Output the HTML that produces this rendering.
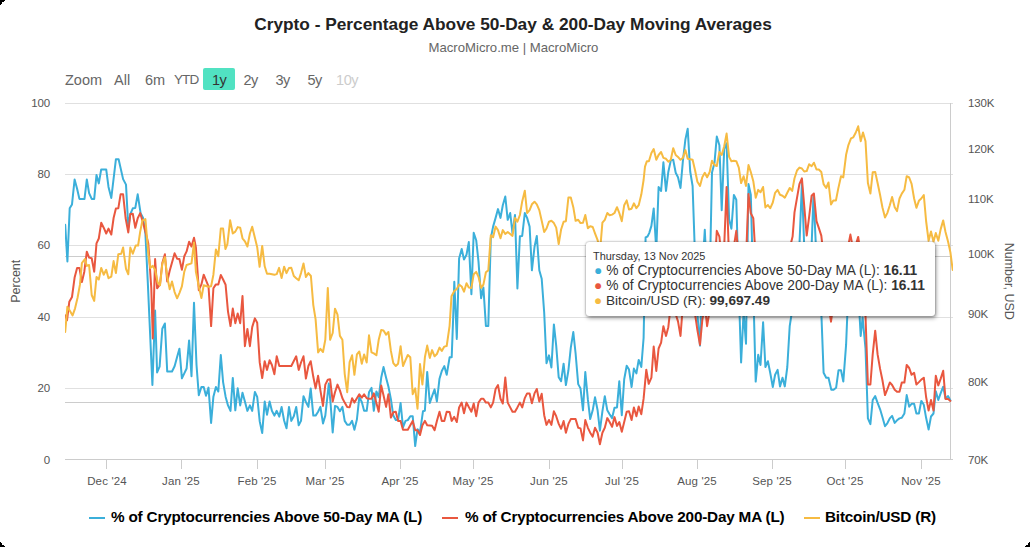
<!DOCTYPE html>
<html><head><meta charset="utf-8">
<style>
html,body{margin:0;padding:0;background:#000;}
body{width:1030px;height:547px;overflow:hidden;font-family:"Liberation Sans",sans-serif;}
#card{position:absolute;left:0;top:0;width:1030px;height:547px;background:#fff;overflow:hidden;}
.t{position:absolute;white-space:nowrap;line-height:1;}
#title{left:0;width:1026px;text-align:center;top:16px;font-size:17.3px;font-weight:bold;color:#222;}
#sub{left:0;width:1027px;text-align:center;top:41px;font-size:13.15px;color:#666;}
.z{font-size:14.5px;color:#666;top:72.5px;}
.yl{font-size:11.5px;letter-spacing:-0.15px;color:#555;text-align:right;width:40px;margin-top:0.5px}
.yr{font-size:11.5px;letter-spacing:-0.15px;color:#555;margin-top:0.5px}
.xl{font-size:11.5px;letter-spacing:0.15px;color:#555;top:475.5px;width:60px;text-align:center;}
.lg{font-size:15.3px;letter-spacing:-0.2px;font-weight:bold;color:#000;top:509px;}
#tip{position:absolute;left:586px;top:242px;width:349px;height:74px;background:#fff;border-radius:3px;box-shadow:0 0 2px rgba(0,0,0,0.4),1px 2px 4px rgba(0,0,0,0.42);}
#tip .t{color:#333;}
</style></head><body>
<div id="card">
<div class="t" id="title">Crypto - Percentage Above 50-Day &amp; 200-Day Moving Averages</div>
<div class="t" id="sub">MacroMicro.me | MacroMicro</div>

<div class="t z" style="left:65px">Zoom</div>
<div class="t z" style="left:114px">All</div>
<div class="t z" style="left:145px">6m</div>
<div class="t z" style="left:174px;letter-spacing:-0.9px;font-size:13.5px;margin-top:0.7px">YTD</div>
<div style="position:absolute;left:203px;top:68px;width:32px;height:22px;background:#51e2c2;border-radius:2px"></div>
<div class="t z" style="left:212px;color:#333;letter-spacing:-0.5px">1y</div>
<div class="t z" style="left:243.5px;letter-spacing:-0.5px">2y</div>
<div class="t z" style="left:275.5px;letter-spacing:-0.5px">3y</div>
<div class="t z" style="left:307.5px;letter-spacing:-0.5px">5y</div>
<div class="t z" style="left:336px;color:#ccc;letter-spacing:-0.4px">10y</div>

<svg id="plot" width="1030" height="547" style="position:absolute;left:0;top:0">
<defs><clipPath id="pc"><rect x="65" y="100" width="888" height="362"/></clipPath></defs>
<g stroke="#e0e0e0" stroke-width="1" fill="none">
<path d="M65 103.5H953M65 174.5H953M65 245.5H953M65 317.5H953M65 388.5H953"/>
</g>
<path d="M65 459.5H953" stroke="#ccc" stroke-width="1"/>
<path d="M950.5 103V459" stroke="#ccc" stroke-width="1"/>
<path d="M65 256.5H951M65 402.5H951" stroke="#ccc" stroke-width="1"/>
<g stroke="#ccc" stroke-width="1">
<path d="M106.5 459V469M181.500 459V469M257.5 459V469M325.5 459V469M400.5 459V469M473.5 459V469M549.5 459V469M622.5 459V469M697.5 459V469M772.5 459V469M845.5 459V469M921.5 459V469"/>
</g>
<path shape-rendering="crispEdges" fill="#000" d="M0 0H5V1H4V2H2V4H1V5H0ZM0 547H5V546H4V545H2V543H1V542H0ZM1030 547H1025V546H1026V545H1028V543H1029V542H1030Z"/>
<g id="series" clip-path="url(#pc)" fill="none" stroke-width="2" stroke-linejoin="round" stroke-linecap="round">
<path stroke="#3bafda" d="M65.2 224.8L67.4 261.5L69.7 208.3L72.0 204.4L74.6 179.5L77.1 188.8L79.4 198.9L84.5 198.9L86.8 179.5L89.1 193.1L91.7 198.9L94.2 198.9L96.5 174.9L98.8 183.4L101.2 169.4L106.2 169.4L108.5 186.9L111.3 198.0L115.9 159.3L118.6 159.3L123.1 179.1L126.0 184.6L128.3 227.7L130.3 214.1L132.8 208.3L135.3 207.9L137.7 194.3L140.6 213.1L143.1 218.0L145.4 233.5L147.8 282.4L152.4 385.0L155.1 310.6L157.1 372.4L159.6 366.6L162.3 328.7L164.9 323.5L167.2 371.5L172.0 371.5L174.6 366.2L177.1 356.9L179.4 348.7L181.9 378.3L184.3 373.4L186.6 368.5L189.1 340.4L191.5 376.3L194.0 302.8L196.5 364.7L198.8 395.3L201.4 387.0L203.7 387.0L206.0 395.7L208.5 387.6L211.1 422.9L213.4 396.7L215.9 387.0L218.3 391.5L220.8 355.0L223.1 382.1L225.6 396.7L228.0 405.4L230.5 410.9L232.8 377.9L235.3 410.3L237.7 388.3L240.2 405.4L242.5 392.8L244.9 401.6L247.4 410.9L249.9 405.4L252.2 410.9L254.9 391.9L257.2 396.9L259.7 421.2L262.2 433.1L264.7 401.5L267.0 414.7L269.6 401.5L271.9 410.8L274.4 415.6L276.7 410.8L279.3 416.6L281.6 406.9L284.1 420.5L286.5 428.3L289.0 406.9L291.3 420.9L293.8 416.2L296.2 406.9L298.7 425.3L301.0 420.9L303.5 396.2L305.9 402.0L308.4 406.9L310.7 388.4L313.3 415.6L315.6 415.6L318.1 411.7L320.4 406.9L323.0 423.4L325.3 415.6L328.8 383.6L330.7 405.0L332.7 432.5L335.0 405.9L337.5 406.9L339.9 411.2L342.4 406.9L344.7 420.9L347.2 424.8L349.6 424.8L352.1 420.9L354.4 429.8L356.9 419.5L359.3 397.2L361.8 402.0L364.1 410.8L366.7 410.8L369.0 392.3L371.5 387.9L373.8 410.8L376.4 391.4L378.7 397.2L381.2 377.8L383.5 367.1L386.1 377.8L388.4 386.5L390.9 399.1L393.3 415.6L395.8 420.1L398.1 420.1L400.6 403.0L403.0 427.3L405.5 420.9L407.8 420.1L410.3 416.2L412.7 416.2L415.2 446.1L417.5 429.2L420.0 432.1L423.0 411.2L424.9 410.8L427.2 371.9L429.8 403.0L432.1 396.2L434.6 389.4L436.9 401.5L439.5 378.7L441.8 371.0L444.3 366.1L446.7 374.8L449.6 357.3L451.7 357.3L453.1 319.4L454.3 281.7L456.8 338.9L459.1 258.6L461.7 248.9L464.0 259.6L466.5 254.8L468.8 242.1L471.4 294.3L473.7 232.8L476.2 240.2L478.5 261.6L481.1 298.2L483.4 287.5L485.9 325.9L488.3 325.9L490.8 238.3L493.1 226.6L495.6 217.9L498.0 209.1L500.5 217.9L502.8 205.2L505.3 196.5L507.7 219.8L510.2 213.0L512.5 233.4L515.0 215.0L517.4 288.4L519.9 236.3L522.2 235.9L524.8 213.0L527.1 217.9L529.6 226.6L531.9 270.3L534.5 247.0L536.8 235.9L539.3 270.3L541.7 278.7L544.2 312.7L546.5 363.2L549.0 355.4L551.4 367.5L553.9 324.4L556.2 345.7L558.7 377.3L561.1 381.2L563.6 363.7L565.9 385.1L568.4 370.5L570.8 347.7L573.3 332.1L575.6 353.5L578.2 384.1L580.5 388.4L583.0 410.3L585.3 372.1L587.9 399.7L590.2 419.1L592.7 410.3L595.0 397.3L597.6 410.3L599.9 430.7L602.4 411.3L604.8 396.2L607.3 410.3L609.6 414.2L612.1 418.1L614.5 407.8L617.0 407.4L619.3 381.2L621.8 415.2L624.2 379.3L626.7 365.7L629.0 369.6L631.6 387.0L633.9 368.6L636.4 373.4L638.7 359.9L641.3 367.0L643.6 338.0L645.6 237.4L647.5 236.5L649.2 233.1L651.4 225.9L653.7 208.4L656.3 250.2L658.6 187.0L661.1 190.9L663.4 162.3L666.0 190.9L668.3 172.0L670.8 160.4L673.2 159.8L675.7 172.8L678.0 177.3L680.5 188.0L682.9 160.8L685.4 139.4L687.7 128.7L690.2 171.5L692.6 186.0L695.1 258.9L697.4 314.3L700.0 345.6L702.3 270.0L704.8 229.8L707.1 279.9L709.7 279.9L712.0 172.4L714.5 162.7L716.8 136.5L719.4 145.2L721.7 210.3L724.2 149.1L726.6 143.3L729.1 219.0L731.4 228.8L733.9 194.9L736.3 199.7L738.8 290.0L741.1 362.5L743.6 311.9L746.0 343.7L748.5 184.1L750.8 194.8L753.3 290.0L755.7 381.6L758.2 354.8L760.5 365.0L763.1 322.3L765.4 367.0L767.9 361.2L770.2 372.8L772.8 387.0L775.1 374.8L777.6 369.9L780.0 386.4L782.5 377.7L784.8 386.4L787.3 367.0L789.7 326.2L792.2 310.0L794.5 299.9L797.0 290.0L799.4 246.3L801.9 183.2L804.2 246.3L806.7 279.9L809.1 279.9L811.6 246.3L813.5 194.9L815.9 246.3L818.8 279.9L821.3 311.9L823.6 372.8L826.2 377.7L828.5 377.7L831.3 389.7L833.6 389.7L836.1 387.8L838.5 370.3L841.0 370.3L843.3 381.6L846.1 344.7L848.0 298.0L853.3 280.0L858.6 298.0L860.7 335.9L862.6 317.5L865.5 348.5L867.9 418.4L870.4 424.2L872.7 400.0L875.2 396.1L877.6 402.9L880.1 409.3L882.4 417.0L885.0 426.2L887.3 423.3L889.8 418.4L892.1 415.9L894.7 422.9L897.0 420.3L899.5 418.4L901.8 417.8L904.4 413.5L906.7 395.1L909.2 406.7L911.6 403.8L914.1 403.8L916.4 413.5L918.9 413.5L921.3 400.9L923.8 404.8L926.1 417.8L928.6 429.5L931.0 416.5L933.5 413.5L935.8 391.2L938.3 400.0L940.7 393.2L943.2 386.7L945.5 398.4L948.1 396.1L950.4 400.5"/>
<path stroke="#e9573f" d="M65.2 315.4L67.0 320.3L69.3 301.8L72.0 297.0L74.6 277.6L77.1 267.9L79.4 267.9L81.9 282.0L84.3 271.7L86.8 251.7L89.1 257.6L91.7 258.2L94.2 271.7L96.5 243.4L98.8 238.5L101.2 222.8L103.7 227.7L106.2 233.5L108.5 228.6L111.3 234.5L113.6 218.0L115.9 208.6L118.3 208.3L120.6 194.3L123.1 194.3L125.6 218.0L128.3 232.5L130.3 214.1L132.8 213.7L135.3 227.7L137.7 218.3L140.2 213.1L143.1 222.8L145.4 231.6L148.3 243.6L151.3 288.3L152.8 338.4L155.1 259.1L157.1 288.3L160.0 284.4L162.3 263.0L164.9 254.3L167.2 281.5L169.7 270.8L174.6 253.3L177.1 258.7L179.4 259.1L181.9 269.8L184.3 256.2L186.6 251.4L189.1 241.7L191.5 246.5L194.0 237.8L195.9 247.5L198.8 290.2L201.4 284.4L203.7 274.7L208.5 286.3L211.1 326.1L213.4 288.3L215.9 284.4L218.3 284.4L220.8 275.0L223.1 279.5L225.6 284.8L228.0 311.6L230.5 326.1L232.8 308.6L235.3 323.2L237.7 313.5L240.2 323.2L242.5 296.0L244.9 346.2L247.4 329.0L249.9 346.2L252.2 327.1L254.9 318.4L257.2 322.8L259.7 362.4L262.2 378.1L264.7 361.2L267.0 369.9L269.6 360.2L271.9 365.0L274.4 374.2L276.7 356.3L279.3 366.0L291.3 366.0L296.2 356.3L298.7 369.9L301.0 362.5L303.5 356.3L305.9 378.6L308.4 366.0L310.7 361.2L313.3 376.8L315.6 388.4L318.1 375.8L320.4 390.4L323.0 405.9L325.3 384.6L327.8 379.7L330.1 379.3L332.7 401.5L335.0 392.3L337.5 384.6L339.9 390.4L342.4 398.2L344.7 402.6L347.2 406.9L349.6 407.3L352.1 398.2L354.4 402.6L356.9 398.2L359.3 394.3L361.8 397.6L364.1 394.3L366.7 398.2L369.0 398.7L371.5 398.7L373.8 393.3L376.4 403.0L378.7 411.7L381.2 385.5L383.5 395.2L386.1 406.9L388.4 394.3L390.9 417.6L393.3 412.3L395.8 411.7L398.1 420.9L400.6 420.9L403.0 429.8L407.8 429.8L410.3 425.3L412.7 420.9L415.2 430.2L417.5 430.2L420.0 435.0L422.4 425.3L424.9 420.9L427.2 425.3L432.1 425.7L434.6 430.2L436.9 420.9L439.5 411.7L441.8 420.9L444.3 420.9L446.7 411.7L449.6 412.0L451.7 420.9L454.2 416.9L456.8 422.0L459.1 407.4L461.7 402.6L464.0 413.3L466.5 402.6L468.8 407.0L471.4 411.7L473.7 403.5L476.2 416.2L478.5 402.6L481.1 398.7L483.4 398.7L485.9 402.6L488.3 402.6L490.8 407.4L493.1 402.6L495.6 389.0L498.0 385.1L500.5 398.7L502.8 403.5L505.3 377.5L507.7 402.6L510.2 407.4L512.5 411.7L515.0 411.7L517.4 407.4L519.9 402.6L522.2 407.4L524.8 398.1L527.1 393.4L529.6 393.4L531.9 403.2L534.5 393.4L536.8 389.0L539.3 401.6L541.7 393.8L544.2 415.2L546.5 424.9L549.0 420.0L551.4 424.9L553.9 411.3L556.2 416.2L558.7 423.9L561.1 428.8L563.6 421.0L565.9 432.7L568.4 423.9L570.8 419.1L573.3 419.1L575.6 419.1L578.2 427.8L580.5 428.4L583.0 440.4L585.3 420.0L587.9 427.8L590.2 432.7L592.7 436.6L595.0 427.8L597.6 432.7L599.9 444.3L602.4 432.7L604.8 427.8L607.3 418.1L609.6 422.0L612.1 426.8L614.5 417.1L617.0 425.9L619.3 422.0L621.8 431.7L624.2 422.0L626.7 411.7L629.0 411.3L631.6 420.0L633.9 407.4L636.4 416.2L638.7 406.5L641.3 414.2L643.6 398.7L646.3 369.7L648.7 383.8L651.4 377.7L653.7 346.6L656.3 370.9L658.6 348.5L661.1 342.7L663.4 326.2L666.0 335.9L668.3 327.2L670.8 305.0L673.2 299.9L675.7 314.3L678.0 321.4L680.5 335.9L682.9 305.0L685.4 299.9L687.7 296.8L690.2 296.8L692.6 299.9L695.1 314.3L697.4 330.1L700.0 344.7L702.3 320.1L704.8 305.0L707.1 326.2L709.7 310.0L712.0 290.0L714.5 270.0L716.8 230.8L719.4 236.6L721.7 259.9L724.2 246.3L726.6 187.1L729.1 259.9L731.4 270.0L733.9 246.3L736.3 230.8L738.8 259.9L741.1 279.9L743.6 279.9L746.0 259.9L748.5 193.9L750.8 213.3L753.3 218.2L755.7 259.9L758.2 279.9L787.3 279.9L790.2 246.3L792.6 236.6L794.5 212.3L799.4 184.2L801.9 178.3L804.2 205.5L806.7 235.6L809.1 217.2L811.6 195.8L813.9 193.5L816.5 221.1L818.8 227.9L821.3 235.6L823.6 256.0L826.2 290.0L828.5 305.0L831.0 321.7L833.3 305.0L836.1 295.0L841.3 280.0L846.1 255.0L848.4 245.0L850.4 234.6L853.3 250.1L855.8 245.0L858.2 236.9L860.7 255.0L863.0 289.9L865.5 315.9L867.9 384.5L870.4 384.5L872.7 354.4L875.2 330.7L877.6 354.4L880.1 368.9L882.4 380.0L885.0 395.1L887.3 389.3L889.8 382.5L892.1 385.0L894.7 389.7L897.0 391.7L899.5 391.7L901.8 382.5L904.4 382.5L906.7 365.0L909.2 368.0L911.6 374.8L914.1 372.8L916.4 384.5L918.9 382.1L921.3 379.6L923.8 377.7L926.1 397.0L928.6 410.6L931.0 400.0L933.5 410.6L935.8 375.7L938.3 385.4L940.7 378.6L943.2 370.8L945.5 399.0L948.1 399.0L950.4 400.9"/>
<path stroke="#f6bb42" d="M65.2 331.9L67.4 306.7L69.7 310.6L72.6 315.4L75.0 308.6L77.5 298.0L80.0 284.4L81.9 263.0L84.9 259.1L86.8 265.9L89.1 265.0L91.7 295.0L94.2 300.9L96.5 277.0L98.8 279.5L101.2 267.9L103.7 274.7L106.2 269.8L108.5 278.2L111.3 276.6L113.6 261.1L115.9 273.1L118.3 254.3L121.2 253.7L123.1 247.5L126.0 268.8L128.3 274.3L130.3 247.5L132.8 253.7L135.7 245.5L138.1 245.5L140.2 231.6L142.5 220.3L145.4 219.1L148.3 253.3L150.3 267.9L152.8 265.9L155.1 269.8L157.7 282.4L160.0 285.3L162.3 264.0L164.9 257.2L167.2 276.6L169.7 289.2L172.0 281.5L174.6 292.1L177.1 298.3L179.4 293.1L181.9 286.3L184.3 271.7L186.6 265.0L191.5 263.4L194.0 242.6L195.9 271.7L198.8 286.3L201.4 298.0L203.7 285.3L208.5 286.7L211.1 286.3L213.4 274.7L215.9 249.4L218.3 256.2L220.8 228.6L223.1 228.6L225.4 249.0L227.4 244.2L230.1 220.3L232.8 233.5L235.3 231.6L237.7 227.1L240.2 227.7L242.5 238.3L244.9 241.3L247.4 246.5L249.9 233.5L252.2 226.7L254.9 237.8L257.2 247.2L259.6 266.8L262.2 245.9L264.7 266.3L267.0 273.7L269.6 273.7L274.4 274.7L276.7 274.1L279.1 267.9L281.6 278.0L284.1 266.7L286.5 273.1L289.0 267.9L291.3 267.7L293.8 276.0L296.2 278.3L298.7 280.3L301.0 273.1L303.5 263.4L305.9 277.0L308.4 273.1L310.9 276.0L313.3 305.1L315.6 319.4L318.1 352.4L320.4 348.9L323.0 352.0L325.3 339.8L327.8 288.0L330.1 339.8L332.7 333.0L335.0 308.7L337.5 314.6L339.9 335.9L342.4 339.8L344.7 373.8L347.2 392.2L349.6 362.1L352.1 355.3L354.4 374.8L356.9 354.4L359.3 351.5L361.8 363.7L364.1 354.4L366.7 362.5L369.0 335.3L371.5 352.4L373.8 353.4L376.4 355.3L378.7 339.8L381.2 330.1L383.5 330.5L386.1 334.6L388.4 332.0L390.9 350.9L393.3 363.1L395.8 366.0L398.1 363.7L400.6 346.2L403.0 366.0L405.5 360.2L407.8 355.0L410.3 357.3L412.7 394.2L415.2 388.3L417.5 408.7L420.0 364.1L422.4 384.5L424.9 357.3L427.2 345.6L429.8 357.9L432.1 350.1L434.6 356.3L436.9 354.0L439.5 347.6L441.8 350.9L444.3 346.6L446.7 346.0L449.6 325.8L451.5 296.2L454.3 291.0L456.8 289.0L459.1 284.6L461.7 286.5L464.0 291.7L466.5 283.2L468.8 287.5L471.4 287.9L473.7 274.3L476.2 271.9L478.5 276.8L481.1 287.9L483.4 284.6L485.9 272.3L488.3 270.4L490.8 235.3L493.1 237.3L495.6 226.6L498.0 230.1L500.5 238.3L502.8 230.1L505.3 234.0L507.7 232.0L510.2 234.0L512.5 235.9L515.0 217.9L517.4 221.7L519.9 215.0L522.2 201.4L524.8 190.7L527.1 213.0L529.6 210.1L531.9 204.3L534.5 201.7L536.8 204.3L539.3 210.1L541.7 220.8L544.2 232.0L546.5 228.5L549.0 221.7L551.4 220.8L553.9 223.1L556.2 227.6L558.7 244.1L561.1 229.5L563.6 221.7L565.9 221.2L568.4 197.5L570.8 197.5L573.3 207.2L575.6 220.8L578.2 219.8L580.5 223.1L583.0 222.7L585.3 215.0L587.9 228.2L590.2 226.2L592.7 227.0L595.0 233.4L597.6 240.2L600.1 250.3L602.4 222.7L604.8 219.8L607.3 213.0L609.6 215.3L612.1 214.6L614.5 213.0L617.0 207.2L619.3 213.0L621.8 221.2L624.2 205.2L626.7 200.4L629.0 209.5L631.6 208.7L633.9 203.3L636.4 208.2L638.7 205.2L641.3 194.6L643.6 180.0L645.0 166.6L646.9 161.2L648.9 161.2L651.4 153.0L653.7 149.1L656.3 159.8L658.6 155.0L661.1 152.0L663.4 157.9L666.0 158.8L668.3 161.7L670.8 159.8L673.2 148.2L675.7 155.0L678.0 156.9L680.5 159.8L682.9 157.9L685.4 150.1L687.7 158.8L690.2 159.2L692.6 159.8L695.1 170.5L697.4 181.7L700.0 186.0L702.3 177.3L704.8 172.8L707.1 177.3L709.7 172.0L712.0 160.8L714.5 165.0L716.8 166.0L719.4 152.0L721.7 155.0L724.2 146.2L726.6 133.6L729.1 156.9L731.4 161.2L733.9 160.8L736.3 161.2L738.8 167.6L741.1 183.1L743.6 176.3L746.0 186.0L748.5 165.0L750.8 172.0L753.3 181.2L755.7 197.7L758.2 189.9L760.5 192.2L763.1 187.0L765.4 207.4L767.9 205.0L770.2 208.3L772.8 202.5L775.1 192.8L777.6 189.9L780.0 194.8L782.5 195.7L784.8 197.7L787.3 192.8L789.7 188.0L792.2 190.9L794.5 178.3L797.0 170.5L799.4 167.6L801.9 168.5L804.2 171.5L806.7 171.1L809.1 164.3L811.6 166.2L813.9 162.7L816.5 169.5L818.8 169.5L821.3 172.0L823.6 184.1L826.2 188.0L828.5 182.5L831.0 204.5L833.3 200.6L835.9 200.6L838.2 188.9L841.0 176.2L843.3 177.4L846.1 154.8L848.4 145.1L851.0 138.3L853.3 137.3L855.8 132.5L858.2 126.3L860.7 141.2L863.0 132.5L865.5 141.2L867.9 183.0L870.4 193.6L872.7 172.3L875.2 171.9L877.6 183.0L880.1 195.0L882.4 207.2L885.0 217.5L887.3 213.1L889.8 205.3L892.1 196.9L894.7 207.2L897.0 211.1L899.5 198.5L901.8 193.6L904.4 189.8L906.7 176.2L909.2 177.5L911.6 183.9L914.1 198.5L916.4 207.8L918.9 200.8L921.3 198.5L923.8 195.0L926.1 221.0L928.6 240.8L931.0 231.5L933.5 241.7L935.8 233.0L938.3 240.8L940.7 229.1L943.2 220.4L945.5 232.0L948.1 241.7L950.4 252.4L952.7 269.9"/>
</g>
</svg>

<div class="t yl" style="left:10px;top:97px">100</div>
<div class="t yl" style="left:10px;top:168px">80</div>
<div class="t yl" style="left:10px;top:239px">60</div>
<div class="t yl" style="left:10px;top:311px">40</div>
<div class="t yl" style="left:10px;top:382px">20</div>
<div class="t yl" style="left:10px;top:454px">0</div>
<div class="t" style="left:-14px;top:275px;width:60px;text-align:center;font-size:12.5px;color:#555;transform:rotate(-90deg);transform-origin:50% 50%">Percent</div>

<div class="t yr" style="left:968px;top:97px">130K</div>
<div class="t yr" style="left:968px;top:143px">120K</div>
<div class="t yr" style="left:968px;top:193px">110K</div>
<div class="t yr" style="left:968px;top:248px">100K</div>
<div class="t yr" style="left:968px;top:308px">90K</div>
<div class="t yr" style="left:968px;top:376px">80K</div>
<div class="t yr" style="left:968px;top:454px">70K</div>
<div class="t" style="left:964px;top:275px;width:90px;text-align:center;font-size:12.5px;color:#555;transform:rotate(90deg);transform-origin:50% 50%">Number, USD</div>

<div class="t xl" style="left:77px">Dec '24</div>
<div class="t xl" style="left:151px">Jan '25</div>
<div class="t xl" style="left:227px">Feb '25</div>
<div class="t xl" style="left:295px">Mar '25</div>
<div class="t xl" style="left:370px">Apr '25</div>
<div class="t xl" style="left:443px">May '25</div>
<div class="t xl" style="left:519px">Jun '25</div>
<div class="t xl" style="left:592px">Jul '25</div>
<div class="t xl" style="left:667px">Aug '25</div>
<div class="t xl" style="left:742px">Sep '25</div>
<div class="t xl" style="left:815px">Oct '25</div>
<div class="t xl" style="left:891px">Nov '25</div>

<div id="tip">
<div class="t" style="left:7px;top:9px;font-size:10.9px">Thursday, 13 Nov 2025</div>
<div class="t" style="left:8px;top:22px;font-size:13.75px"><span style="color:#3bafda">●</span> % of Cryptocurrencies Above 50-Day MA (L): <b>16.11</b></div>
<div class="t" style="left:8px;top:37px;font-size:13.75px"><span style="color:#e9573f">●</span> % of Cryptocurrencies Above 200-Day MA (L): <b>16.11</b></div>
<div class="t" style="left:8px;top:52px;font-size:13.6px"><span style="color:#f6bb42">●</span> Bitcoin/USD (R): <b>99,697.49</b></div>
</div>

<div style="position:absolute;left:89px;top:516.500px;width:16px;height:2px;background:#3bafda"></div>
<div class="t lg" style="left:111px">% of Cryptocurrencies Above 50-Day MA (L)</div>
<div style="position:absolute;left:442px;top:516.500px;width:16px;height:2px;background:#e9573f"></div>
<div class="t lg" style="left:465px">% of Cryptocurrencies Above 200-Day MA (L)</div>
<div style="position:absolute;left:804px;top:516.500px;width:16px;height:2px;background:#f6bb42"></div>
<div class="t lg" style="left:825px">Bitcoin/USD (R)</div>
</div>
</body></html>
